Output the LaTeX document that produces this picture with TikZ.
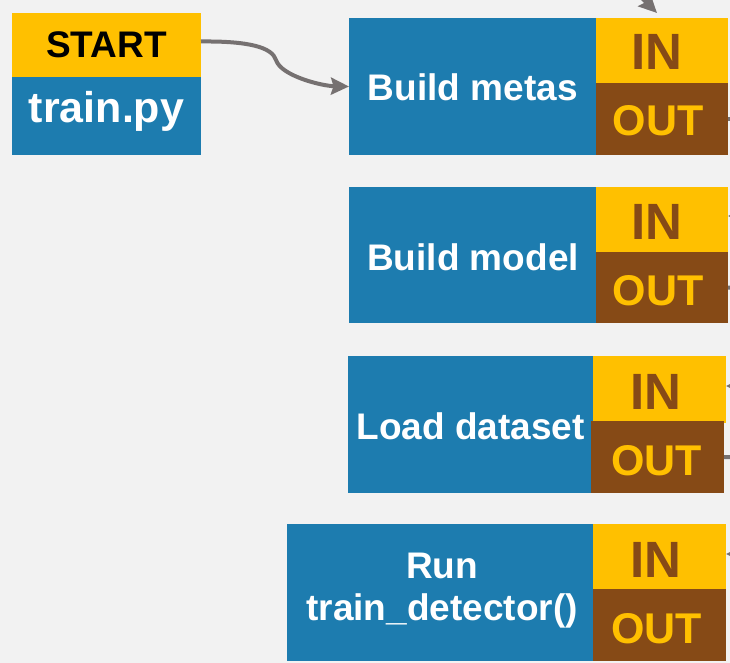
\documentclass[tikz,border=0pt]{standalone}
\usepackage{fontspec}
\setmainfont{Liberation Sans}
\usetikzlibrary{arrows.meta,calc}
\definecolor{bgc}{HTML}{F2F2F2}
\definecolor{blu}{RGB}{29,124,175}
\definecolor{yel}{HTML}{FFC000}
\definecolor{brn}{RGB}{134,74,22}
\definecolor{gry}{HTML}{767171}
\begin{document}
\begin{tikzpicture}[x=1pt,y=-1pt,
  rect/.style={draw=none,inner sep=0pt,outer sep=0pt,anchor=north west},
  bluebox/.style={rect,fill=blu},
  inbox/.style={rect,fill=yel},
  outbox/.style={rect,fill=brn},
  lbl/.style={inner sep=0pt,anchor=base,font=\fontsize{37}{44}\selectfont\bfseries,text=white},
  inlbl/.style={inner sep=0pt,anchor=base,font=\fontsize{51}{60}\selectfont\bfseries,text=brn},
  outlbl/.style={inner sep=0pt,anchor=base,font=\fontsize{43}{50}\selectfont\bfseries,text=yel},
  conn/.style={draw=gry,line width=4pt},
  arr/.style={conn,-{Stealth[length=18pt,width=17pt,inset=2.5pt]}}]
\useasboundingbox (0,0) rectangle (730,663);
\fill[bgc] (0,0) rectangle (730,663);
\clip (0,0) rectangle (730,663);

% START block
\node[inbox,minimum width=189pt,minimum height=64pt] (S) at (12,13) {};
\node[bluebox,minimum width=189pt,minimum height=78pt] (T) at (12,77) {};
\node[inner sep=0pt,anchor=base,font=\fontsize{37}{44}\selectfont\bfseries,text=black] (St) at (106.5,57.7) {START};
\node[inner sep=0pt,anchor=base,font=\fontsize{43}{50}\selectfont\bfseries,text=white] (Tt) at (106.5,123) {train.py};

% Block 1
\node[bluebox,minimum width=247pt,minimum height=137pt] (B1) at (349,18) {};
\node[inbox,minimum width=132pt,minimum height=65pt] (I1) at (596,18) {};
\node[outbox,minimum width=132pt,minimum height=72pt] (O1) at (596,83) {};
\node[lbl] (B1t) at (472.8,100.7) {Build metas};
\node[inlbl] (I1t) at (657,70) {IN};
\node[outlbl] (O1t) at (658,136) {OUT};

% Block 2
\node[bluebox,minimum width=247pt,minimum height=136pt] (B2) at (349,187) {};
\node[inbox,minimum width=132pt,minimum height=65pt] (I2) at (596,187) {};
\node[outbox,minimum width=132pt,minimum height=71pt] (O2) at (596,252) {};
\node[lbl] (B2t) at (473,270) {Build model};
\node[inlbl] (I2t) at (657,239) {IN};
\node[outlbl] (O2t) at (658,305) {OUT};

% Block 3
\node[bluebox,minimum width=245pt,minimum height=137pt] (B3) at (348,356) {};
\node[inbox,minimum width=133pt,minimum height=67pt] (I3) at (593,356) {};
\node[outbox,minimum width=133pt,minimum height=72pt] (O3) at (591,421) {};
\node[lbl] (B3t) at (470.5,439) {Load dataset};
\node[inlbl] (I3t) at (656,409) {IN};
\node[outlbl] (O3t) at (656.5,475) {OUT};

% Block 4
\node[bluebox,minimum width=306pt,minimum height=137pt] (B4) at (287,524) {};
\node[inbox,minimum width=133pt,minimum height=65pt] (I4) at (593,524) {};
\node[outbox,minimum width=133pt,minimum height=72pt] (O4) at (593,589) {};
\node[lbl] (B4a) at (442,578) {Run};
\node[lbl] (B4b) at (442,620) {train\_detector()};
\node[inlbl] (I4t) at (656,577) {IN};
\node[outlbl] (O4t) at (656.5,643) {OUT};

% connectors
\coordinate (Sout) at ($(S.east)+(0,-3.5)$);
\draw[arr] (Sout) .. controls (248,41) and (272,47) .. (276,60)
  .. controls (281,76) and (322,86) .. (B1.west);

\coordinate (topsrc) at (610,-34);
\coordinate (topend) at (657,13);
\draw[arr] (topsrc) -- (topend);

\coordinate (o1x) at (760,119);
\coordinate (o2x) at (760,288);
\coordinate (o3x) at (760,458);
\draw[conn] (O1.east) -- (o1x);
\draw[conn] (O2.east) -- (o2x);
\draw[conn] (O3.east) -- (o3x);

\coordinate (i2x) at (770,216);
\coordinate (i3x) at (770,386);
\coordinate (i4x) at (770,554);
\coordinate (I2e) at (728,216);
\coordinate (I3e) at (726,386);
\coordinate (I4e) at (726,554);
\draw[arr] (i2x) -- (I2e);
\draw[arr] (i3x) -- (I3e);
\draw[arr] (i4x) -- (I4e);
\end{tikzpicture}
\end{document}
